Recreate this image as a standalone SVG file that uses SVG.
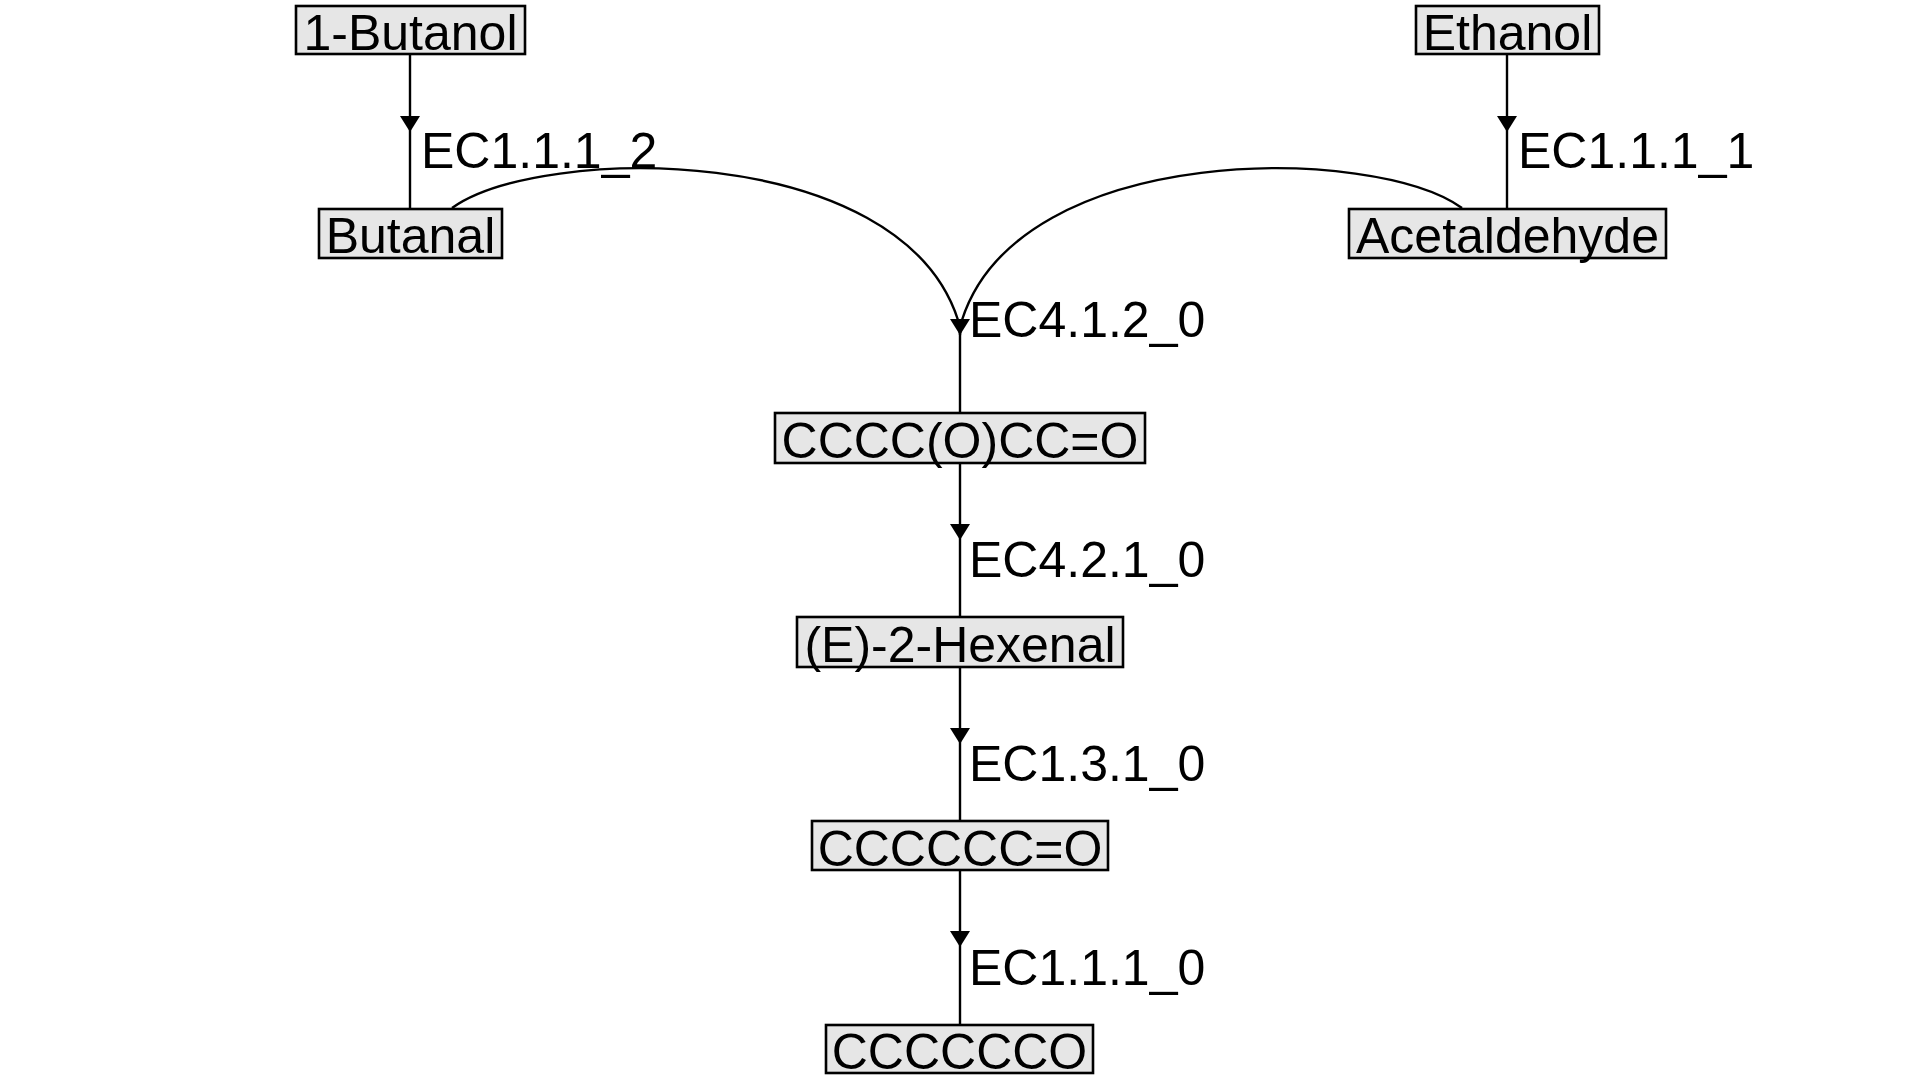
<svg xmlns="http://www.w3.org/2000/svg" xmlns:xlink="http://www.w3.org/1999/xlink" width="1920" height="1080" viewBox="0 0 1920 1080">
<style>
.box{fill:#e6e6e6;stroke:#000;stroke-width:2.6}
.t{font-family:"Liberation Sans",Arial,sans-serif;font-size:50px;fill:#000}
.c{text-anchor:middle}
.e{fill:none;stroke:#000;stroke-width:2.4}
</style>
<defs>
<path id="ah" d="M0,0 L-10,-16 L10,-16 Z" fill="#000"/>
</defs>
<rect width="1920" height="1080" fill="#fff"/>
<g id="connectors">
<path class="e" d="M410,54 L410,209"/>
<use xlink:href="#ah" x="410" y="132"/>
<path class="e" d="M1507,54 L1507,209"/>
<use xlink:href="#ah" x="1507" y="132"/>
<path class="e" d="M452,208 C540,145 900,140 958,320 L960,335 L960,413"/>
<path class="e" d="M1462,208 C1375,145 1020,140 962,320 L960,335"/>
<use xlink:href="#ah" x="960" y="335"/>
<path class="e" d="M960,463 L960,617"/>
<use xlink:href="#ah" x="960" y="540"/>
<path class="e" d="M960,667 L960,821"/>
<use xlink:href="#ah" x="960" y="744"/>
<path class="e" d="M960,870 L960,1025"/>
<use xlink:href="#ah" x="960" y="947"/>
<text class="t" x="421" y="168">EC1.1.1_2</text>
<text class="t" x="1518" y="168">EC1.1.1_1</text>
<text class="t" x="969" y="337">EC4.1.2_0</text>
<text class="t" x="969" y="577">EC4.2.1_0</text>
<text class="t" x="969" y="781">EC1.3.1_0</text>
<text class="t" x="969" y="985">EC1.1.1_0</text>
</g>
<g id="n_butanol"><rect class="box" x="296" y="6" width="229" height="48"/><text class="t c" x="410.5" y="50">1-Butanol</text></g>
<g id="n_butanal"><rect class="box" x="319" y="209" width="183" height="49"/><text class="t c" x="410.5" y="253">Butanal</text></g>
<g id="n_ethanol"><rect class="box" x="1416" y="6" width="183" height="48"/><text class="t c" x="1507.5" y="50">Ethanol</text></g>
<g id="n_acetaldehyde"><rect class="box" x="1349" y="209" width="317" height="49"/><text class="t c" x="1507.5" y="253">Acetaldehyde</text></g>
<g id="n_hydroxy"><rect class="box" x="775" y="413" width="370" height="50"/><text class="t c" x="960" y="458">CCCC(O)CC=O</text></g>
<g id="n_hexenal"><rect class="box" x="797" y="617" width="326" height="50"/><text class="t c" x="960" y="662">(E)-2-Hexenal</text></g>
<g id="n_hexanal"><rect class="box" x="812" y="821" width="296" height="49"/><text class="t c" x="960" y="866">CCCCCC=O</text></g>
<g id="n_hexanol"><rect class="box" x="826" y="1025" width="267" height="48"/><text class="t c" x="959.5" y="1069">CCCCCCO</text></g>
</svg>
